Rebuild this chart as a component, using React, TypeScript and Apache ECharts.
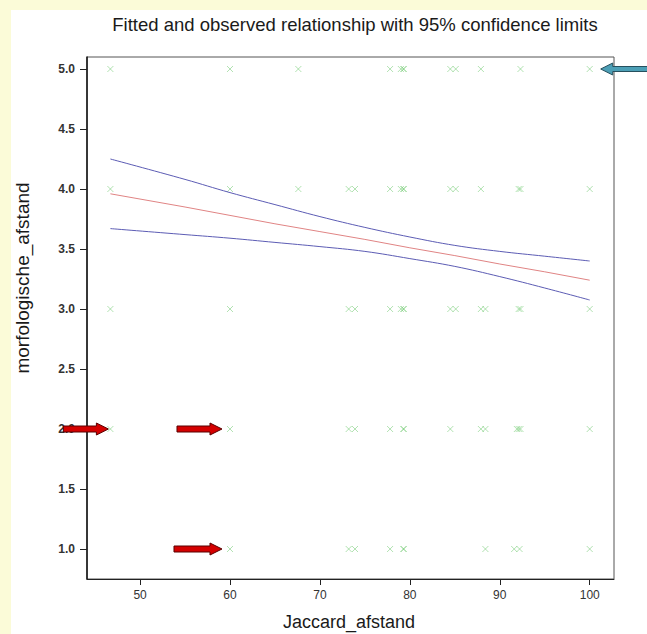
import React, { useEffect, useRef } from "react";
import * as echarts from "echarts";

// Observed points, grouped by morfologische_afstand level
const levels = [5, 4, 3, 2, 1];
const row5 = [46.7, 60, 67.6, 77.8, 79.0, 79.3, 79.3, 84.5, 85.1, 87.9, 92.3, 100];
const row4 = [46.7, 60, 67.6, 73.2, 73.9, 77.8, 79.0, 79.3, 79.3, 84.5, 85.1, 87.9, 92.1, 92.3, 100];
const row3 = [46.7, 60, 73.2, 73.9, 77.8, 79.0, 79.3, 79.3, 84.5, 85.1, 87.9, 88.4, 92.1, 92.3, 100];
const row2 = [46.7, 60, 73.2, 73.9, 77.8, 79.3, 79.3, 84.5, 87.9, 88.4, 91.9, 92.1, 92.3, 100];
const row1 = [60, 73.2, 73.9, 77.8, 79.3, 79.3, 88.4, 91.6, 92.2, 100];
const rows = [row5, row4, row3, row2, row1];

// Fitted line and 95% confidence limits
const curveX = [46.7, 55, 60, 65, 70, 75, 80, 85, 90, 95, 100];
const fitY = [3.96, 3.85, 3.78, 3.71, 3.645, 3.58, 3.51, 3.445, 3.375, 3.31, 3.24];
const upperY = [4.25, 4.08, 3.97, 3.87, 3.77, 3.68, 3.6, 3.53, 3.48, 3.44, 3.4];
const lowerY = [3.67, 3.62, 3.59, 3.555, 3.52, 3.48, 3.42, 3.355, 3.27, 3.175, 3.075];

const xTicks = [50, 60, 70, 80, 90, 100];
const yTicks = [1.0, 1.5, 2.0, 2.5, 3.0, 3.5, 4.0, 4.5, 5.0];

// Annotated points (arrows)
const redArrowTargets: [number, number][] = [[46.7, 2], [60, 2], [60, 1]];
const blueArrowTarget: [number, number] = [100, 5];

const FONT = "'Liberation Sans', Arial, sans-serif";

export default function App() {
  const ref = useRef<HTMLDivElement>(null);
  useEffect(() => {
    if (!ref.current) return;
    const chart = echarts.init(ref.current, null, { renderer: "svg" });
    const scatterData: [number, number][] = [];
    rows.forEach((r, i) => r.forEach((x) => scatterData.push([x, levels[i]])));
    const pts = (ys: number[]) => curveX.map((x, i) => [x, ys[i]]);
    chart.setOption({
      animation: false,
      backgroundColor: "#ffffff",
      grid: {
        left: 87,
        right: 33,
        top: 57,
        bottom: 55,
        show: true,
        borderColor: "#555",
        borderWidth: 1,
      },
      title: {
        text: "Fitted and observed relationship with 95% confidence limits",
        left: 350,
        textAlign: "center",
        top: 10,
        textStyle: { fontFamily: FONT, fontSize: 18.5, fontWeight: "normal", color: "#1a1a1a" },
      },
      xAxis: {
        type: "value",
        min: 44.1,
        max: 102.7,
        splitLine: { show: false },
        axisLine: { show: true, lineStyle: { color: "#222", width: 1 } },
        axisTick: { show: true, length: 6, customValues: xTicks, lineStyle: { color: "#222" } },
        axisLabel: {
          customValues: xTicks,
          margin: 10,
          fontFamily: FONT,
          fontSize: 12,
          color: "#333",
        },
      },
      yAxis: {
        type: "value",
        min: 0.75,
        max: 5.1,
        splitLine: { show: false },
        axisLine: { show: true, lineStyle: { color: "#111", width: 1.5 } },
        axisTick: { show: true, length: 7, customValues: yTicks, lineStyle: { color: "#222" } },
        axisLabel: {
          customValues: yTicks,
          margin: 12,
          fontFamily: FONT,
          fontSize: 12,
          fontWeight: "bold",
          color: "#333",
          formatter: (v: number) => v.toFixed(1),
        },
      },
      series: [
        {
          type: "scatter",
          data: scatterData,
          symbol: "path://M0,0L10,10M10,0L0,10",
          symbolSize: 6,
          itemStyle: { color: "none", borderColor: "rgba(80,190,80,0.55)", borderWidth: 1 },
          z: 2,
        },
        {
          type: "line",
          data: pts(upperY),
          smooth: 0.4,
          showSymbol: false,
          lineStyle: { color: "#5c5cb4", width: 1 },
          z: 3,
        },
        {
          type: "line",
          data: pts(lowerY),
          smooth: 0.4,
          showSymbol: false,
          lineStyle: { color: "#5c5cb4", width: 1 },
          z: 3,
        },
        {
          type: "line",
          data: pts(fitY),
          showSymbol: false,
          lineStyle: { color: "#e08484", width: 1 },
          z: 3,
        },
      ],
    });

    const graphics: any[] = [
      { type: "rect", shape: { x: 0, y: 0, width: 647, height: 10 }, style: { fill: "#fbfbd8" }, z: 0 },
      { type: "rect", shape: { x: 0, y: 0, width: 11, height: 634 }, style: { fill: "#fbfbd8" }, z: 0 },
      {
        type: "text",
        x: 22,
        y: 278,
        rotation: Math.PI / 2,
        style: {
          text: "morfologische_afstand",
          font: `19px ${FONT}`,
          fill: "#1a1a1a",
          textAlign: "center",
          textVerticalAlign: "middle",
        },
      },
      {
        type: "text",
        x: 349,
        y: 622,
        style: {
          text: "Jaccard_afstand",
          font: `18px ${FONT}`,
          fill: "#1a1a1a",
          textAlign: "center",
          textVerticalAlign: "middle",
        },
      },
    ];
    const offsets = [2, 8, 8];
    const lengths = [45, 45, 48];
    redArrowTargets.forEach((t, i) => {
      const p = chart.convertToPixel({ gridIndex: 0 }, t) as number[];
      const tx = p[0] - offsets[i];
      const ty = p[1];
      const L = lengths[i];
      graphics.push({
        type: "polygon",
        z: 10,
        shape: {
          points: [
            [tx, ty],
            [tx - 12, ty - 6],
            [tx - 12, ty - 3],
            [tx - L, ty - 3],
            [tx - L, ty + 3],
            [tx - 12, ty + 3],
            [tx - 12, ty + 6],
          ],
        },
        style: { fill: "#d40000", stroke: "#5a0000", lineWidth: 1 },
      });
    });
    {
      const p = chart.convertToPixel({ gridIndex: 0 }, blueArrowTarget) as number[];
      const tx = p[0] + 11;
      const ty = p[1];
      graphics.push({
        type: "polygon",
        z: 10,
        shape: {
          points: [
            [tx, ty],
            [tx + 12, ty - 6],
            [tx + 12, ty - 2.5],
            [648, ty - 2.5],
            [648, ty + 2.5],
            [tx + 12, ty + 2.5],
            [tx + 12, ty + 6],
          ],
        },
        style: { fill: "#4c9fb6", stroke: "#27505e", lineWidth: 1 },
      });
    }
    chart.setOption({ graphic: graphics });
    return () => chart.dispose();
  }, []);
  return (
    <div
      ref={ref}
      style={{ position: "fixed", left: 0, top: 0, width: 647, height: 634 }}
    />
  );
}
